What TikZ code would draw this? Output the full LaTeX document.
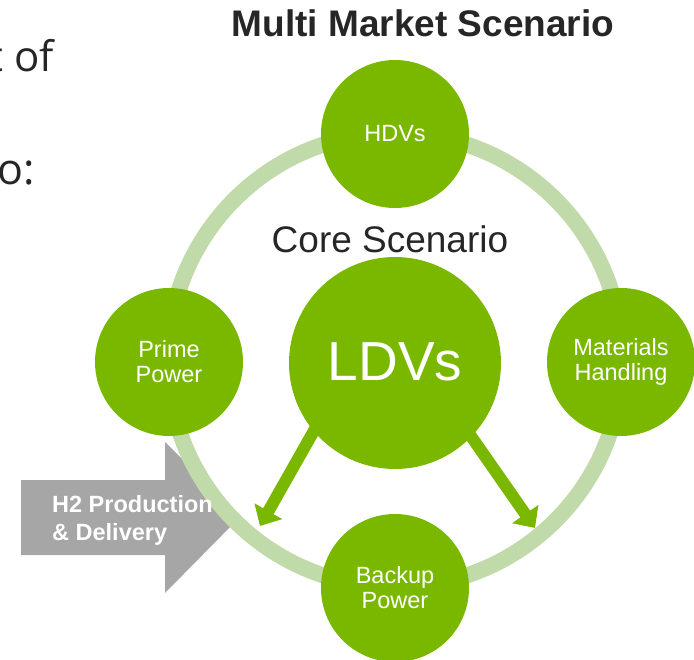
\documentclass[tikz,border=0pt]{standalone}
\usepackage{fontspec}
\setmainfont{Liberation Sans}
\newfontfamily\leftfont{Open Sans}
\usetikzlibrary{arrows.meta}
\definecolor{leaf}{HTML}{7AB800}
\definecolor{ringc}{HTML}{C0DAA9}
\definecolor{greyarrow}{HTML}{A6A6A6}
\definecolor{darktext}{HTML}{262626}
\tikzset{
  market/.style={circle, fill=leaf, minimum size=148pt, inner sep=0pt, text=white, align=center,
    font=\fontsize{23.5}{25}\selectfont},
  core/.style={circle, fill=leaf, minimum size=212pt, inner sep=0pt, text=white,
    font=\fontsize{55}{60}\selectfont},
  ring/.style={draw=ringc, line width=16pt},
  garrow/.style={draw=leaf, line width=12pt, shorten <=-6pt, -{Triangle[length=17pt,width=31pt]}},
  greyshape/.style={fill=greyarrow},
  slidetext/.style={anchor=base east, inner sep=0pt, text=darktext},
}
\begin{document}
\begin{tikzpicture}[x=1pt,y=-1pt]
\useasboundingbox (0,0) rectangle (694,660);
% cut-off slide text on the left
\node[slidetext, font=\leftfont\fontsize{42}{46}\selectfont] (lefta) at (54,72) {t of};
\node[slidetext, font=\leftfont\fontsize{43}{46}\selectfont] (leftb) at (35,185) {o:};
% title
\node[anchor=base, inner sep=0pt, text=darktext, font=\bfseries\fontsize{37}{40}\selectfont] (title) at (423,37) {Multi Market Scenario};
% grey input arrow
\fill[greyshape] (21,480) -- (165,480) -- (165,442) -- (240,517) -- (165,593) -- (165,555) -- (21,555) -- cycle;
% ring
\coordinate (ctr) at (395,360);
\draw[ring] (ctr) circle[radius=227pt];
\node[anchor=base west, inner sep=0pt, text=white, align=left, font=\bfseries\fontsize{23.5}{28}\selectfont] (h2) at (52,540) {H2 Production\\\& Delivery};
% market circles
\node[market] (hdv) at (395,134) {HDVs};
\node[market] (prime) at (169,362) {Prime\\Power};
\node[market] (mat) at (621,362) {Materials\\Handling\vphantom{p}};
\node[market] (backup) at (395,588) {Backup\\Power};
% core
\node[core] (ldv) at (395,363) {\raisebox{3pt}{LDVs}};
\node[anchor=base, inner sep=0pt, text=darktext, font=\fontsize{37}{40}\selectfont] (coretitle) at (390,253) {Core Scenario};
% arrows
\coordinate (tipL) at (260,526);
\coordinate (tipR) at (535,528);
\draw[garrow] (ldv.220) -- (tipL);
\draw[garrow] (ldv.-44) -- (tipR);
\end{tikzpicture}
\end{document}
